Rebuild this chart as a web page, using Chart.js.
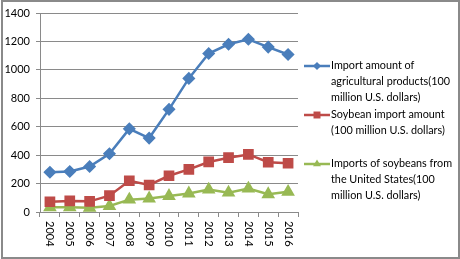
<!DOCTYPE html>
<html>
<head>
<meta charset="utf-8">
<script src="https://cdn.jsdelivr.net/npm/chart.js@4/dist/chart.umd.min.js"></script>
<style>
  html, body { margin: 0; padding: 0; background: #fff; }
  #wrap { position: relative; width: 460px; height: 259px; }
  #frame { position: absolute; left: 1px; top: 0px; width: 455px; height: 255px; border: 2px solid #8a8a8a; pointer-events: none; }
</style>
</head>
<body>
<div id="wrap">
  <canvas id="importChart" width="460" height="259"></canvas>
  <div id="frame"></div>
</div>
<script>
const years = ['2004', '2005', '2006', '2007', '2008', '2009', '2010', '2011', '2012', '2013', '2014', '2015', '2016'];
const agriImports = [280, 285, 320, 410, 585, 520, 722, 940, 1115, 1180, 1215, 1160, 1108];
const soybeanImports = [72, 78, 75, 115, 220, 190, 255, 300, 352, 382, 405, 350, 343];
const usSoybeanImports = [33, 33, 30, 42, 87, 95, 113, 130, 158, 136, 165, 125, 142];
const yTicks = [0, 200, 400, 600, 800, 1000, 1200, 1400];

const agriLegend = ['Import amount of', 'agricultural products(100', 'million U.S. dollars)'];
const soybeanLegend = ['Soybean import amount', '(100 million U.S. dollars)'];
const usSoybeanLegend = ['Imports of soybeans from', 'the United States(100', 'million U.S. dollars)'];

const FONT = 'Lato, "Open Sans", sans-serif';

document.addEventListener('DOMContentLoaded', function() {
  const ctx = document.getElementById('importChart').getContext('2d');
  initializeImportChart(ctx);
});

// x labels are read top to bottom, so they are drawn here instead of by the scale
const yearLabelsPlugin = {
  id: 'yearLabels',
  afterDraw(chart) {
    const x = chart.scales.x;
    const c = chart.ctx;
    c.save();
    c.fillStyle = '#000';
    c.font = '11px ' + FONT;
    c.textAlign = 'left';
    c.textBaseline = 'middle';
    years.forEach((yr, i) => {
      c.save();
      c.translate(x.getPixelForTick(i), x.top + 9);
      c.rotate(Math.PI / 2);
      c.fillText(yr, 0, 0);
      c.restore();
    });
    c.restore();
  }
};

// legend on the right with wrapped labels
const sideLegendPlugin = {
  id: 'sideLegend',
  afterDraw(chart) {
    const c = chart.ctx;
    const tops = [66, 115, 164];
    c.save();
    c.font = '10.8px ' + FONT;
    c.textBaseline = 'middle';
    c.textAlign = 'left';
    chart.data.datasets.forEach((ds, i) => {
      const y = tops[i];
      c.strokeStyle = ds.borderColor;
      c.lineWidth = 2.5;
      c.beginPath();
      c.moveTo(304, y);
      c.lineTo(330, y);
      c.stroke();
      c.fillStyle = ds.backgroundColor;
      Chart.helpers.drawPoint(c, { pointStyle: ds.pointStyle, radius: ds.pointRadius * 0.85, borderWidth: 0 }, 317, y);
      c.fillStyle = '#000';
      ds.legendLines.forEach((line, j) => c.fillText(line, 331, y + j * 16));
    });
    c.restore();
  }
};

function initializeImportChart(ctx) {
  return new Chart(ctx, {
    type: 'line',
    data: {
      labels: years,
      datasets: [{
        label: agriLegend.join(' '),
        legendLines: agriLegend,
        data: agriImports,
        borderColor: '#4A7EBB',
        backgroundColor: '#4A7EBB',
        pointStyle: 'rectRot',
        pointRadius: 4.8,
        borderWidth: 2.5
      }, {
        label: soybeanLegend.join(' '),
        legendLines: soybeanLegend,
        data: soybeanImports,
        borderColor: '#BE4B48',
        backgroundColor: '#BE4B48',
        pointStyle: 'rect',
        pointRadius: 5.8,
        borderWidth: 2.5
      }, {
        label: usSoybeanLegend.join(' '),
        legendLines: usSoybeanLegend,
        data: usSoybeanImports,
        borderColor: '#98B954',
        backgroundColor: '#98B954',
        pointStyle: 'triangle',
        pointRadius: 5.4,
        borderWidth: 2.5
      }]
    },
    options: {
      responsive: false,
      animation: false,
      layout: { padding: { left: 0, top: 13, right: 162, bottom: 0 } },
      elements: { line: { tension: 0 }, point: { borderWidth: 0, hoverRadius: 5 } },
      plugins: {
        legend: { display: false },
        tooltip: { enabled: false }
      },
      scales: {
        x: {
          offset: true,
          ticks: { display: false },
          grid: { offset: true, drawOnChartArea: false, drawTicks: true, tickLength: 5, color: '#8a8a8a' },
          border: { color: '#8a8a8a' },
          afterFit: scale => { scale.height = 47; }
        },
        y: {
          min: 0,
          max: 1400,
          afterBuildTicks: scale => { scale.ticks = yTicks.map(v => ({ value: v })); },
          ticks: {
            color: '#000',
            font: { family: FONT, size: 11 },
            padding: 6,
            callback: v => String(v)
          },
          grid: { color: '#8a8a8a', tickLength: 4 },
          border: { color: '#8a8a8a' },
          afterFit: scale => { scale.width = 40; }
        }
      }
    },
    plugins: [yearLabelsPlugin, sideLegendPlugin]
  });
}
</script>
</body>
</html>
